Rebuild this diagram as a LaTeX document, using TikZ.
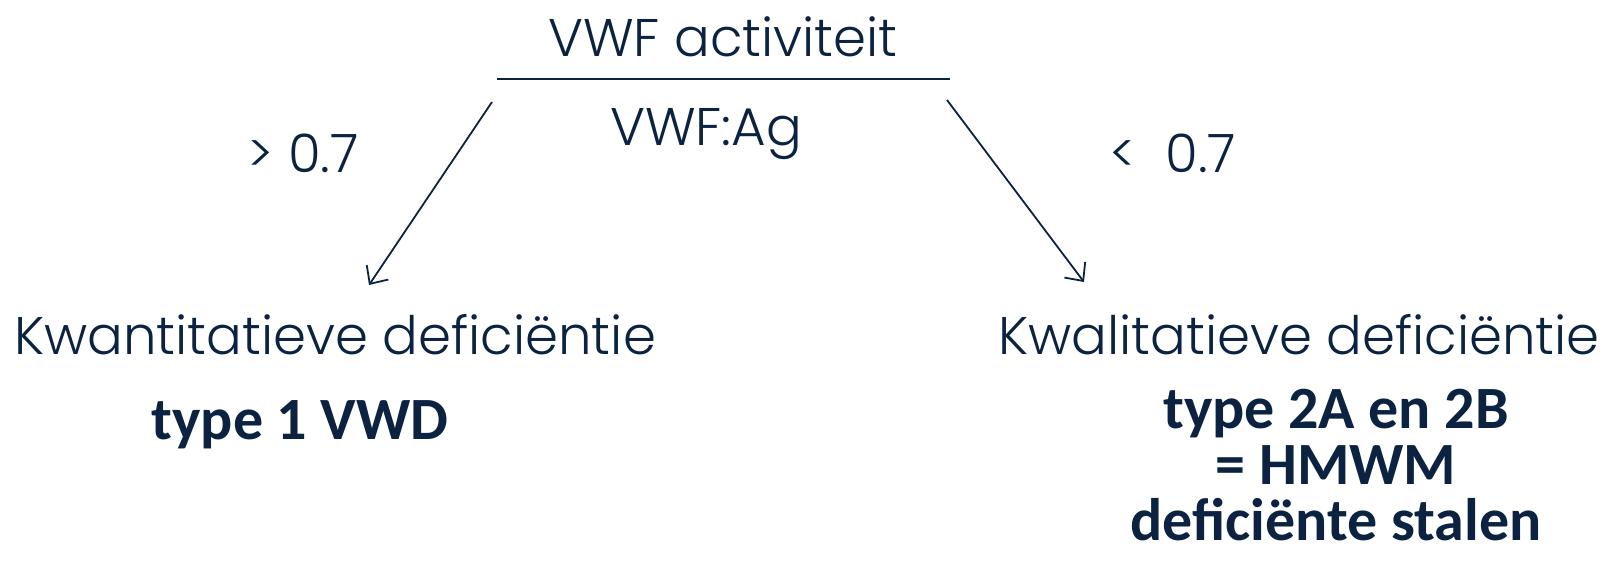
\documentclass[tikz,border=0pt]{standalone}
\usepackage{fontspec}
\setmainfont{Poppins}[UprightFont=* Light]
\newfontfamily\boldfam{Carlito}[UprightFont=* Bold]
\usetikzlibrary{arrows.meta}
\definecolor{navy}{HTML}{0B2340}
\tikzset{
  lighttxt/.style={text=navy, inner sep=0pt, anchor=base, font=\fontsize{53}{60}\selectfont},
  boldtxt/.style={text=navy, inner sep=0pt, anchor=base, font=\boldfam\fontsize{60}{60}\selectfont},
  arr/.style={draw=navy, line width=1.8pt, -{Straight Barb[length=14pt,width=26pt,line width=1.8pt]}}
}
\begin{document}
\begin{tikzpicture}[x=1pt,y=1pt]
\useasboundingbox (0,0) rectangle (1607,-560);
\node[lighttxt] (act) at (723,-56) {VWF activiteit};
\draw[navy, line width=2pt] (497,-79) coordinate (la) -- (950,-79) coordinate (lb);
\node[lighttxt] (ag) at (706,-145) {VWF:Ag};
\node[lighttxt] (gt) at (303,-172) {> 0.7};
\node[lighttxt] (lt) at (1173,-172) {<\ \ 0.7};
\coordinate (s1) at (492,-102);
\coordinate (e1) at (369,-285);
\coordinate (s2) at (947,-100);
\coordinate (e2) at (1084,-282);
\draw[arr] (s1) -- (e1);
\draw[arr] (s2) -- (e2);
\node[lighttxt] (kwan) at (335,-354) {Kwantitatieve deficiëntie};
\node[lighttxt] (kwal) at (1299,-354) {Kwalitatieve deficiëntie};
\node[boldtxt] (t1) at (300,-439) {type 1 VWD};
\node[boldtxt] (t2) at (1336,-428) {type 2A en 2B};
\node[boldtxt] (hm) at (1336,-484) {= HMWM};
\node[boldtxt] (ds) at (1336,-540) {deficiënte stalen};
\end{tikzpicture}
\end{document}
